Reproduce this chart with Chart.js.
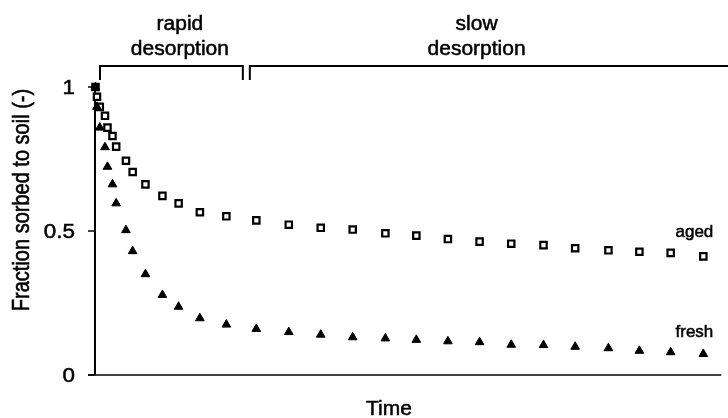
<!DOCTYPE html>
<html><head><meta charset="utf-8">
<script src="https://cdn.jsdelivr.net/npm/chart.js@4"></script>
<style>html,body{margin:0;padding:0;background:#fff}#wrap{width:728px;height:418px;position:relative}</style>
</head><body><div id="wrap"><canvas id="c" width="728" height="418"></canvas></div>
<script>
// ---- data ----
const timeValues = [0.05, 0.2, 0.48, 1.0, 1.25, 1.75, 2.12, 3.1, 3.77, 5.05, 6.75, 8.37, 10.5, 13.15, 16.15, 19.4, 22.6, 25.8, 29.07, 32.17, 35.33, 38.5, 41.67, 44.9, 48.07, 51.4, 54.5, 57.63, 60.9];
const agedValues = [1.0, 0.966, 0.931, 0.900, 0.859, 0.830, 0.793, 0.744, 0.705, 0.662, 0.622, 0.596, 0.565, 0.551, 0.537, 0.522, 0.511, 0.505, 0.492, 0.484, 0.472, 0.463, 0.456, 0.451, 0.440, 0.433, 0.428, 0.424, 0.412];
const freshValues = [1.0, 0.931, 0.859, 0.791, 0.723, 0.662, 0.596, 0.503, 0.430, 0.350, 0.278, 0.237, 0.197, 0.175, 0.160, 0.149, 0.140, 0.131, 0.127, 0.122, 0.117, 0.114, 0.105, 0.104, 0.098, 0.093, 0.084, 0.079, 0.073];
const yTickValues = [0, 0.5, 1];
const yTickLabels = ['0', '0.5', '1'];
const seriesNames = ['aged', 'fresh'];
const seriesLabelY = [0.479, 0.132];
const seriesLabelX = 61.9;
const phaseNames = [['rapid', 'desorption'], ['slow', 'desorption']];
const phaseStarts = [0.5, 15.5];
const phaseEnds = [14.8, 64];
const phaseLabelX = [8.5, 38.2];
const xTitle = 'Time';
const yTitle = 'Fraction sorbed to soil (-)';
const FONT = '"Liberation Sans", Arial, Helvetica, sans-serif';

function txt(ctx, s, x, y, size, sx, align) {
  ctx.save();
  ctx.translate(x, y);
  ctx.scale(sx, 1);
  ctx.font = size + 'px ' + FONT;
  ctx.textAlign = align || 'center';
  ctx.textBaseline = 'alphabetic';
  ctx.fillStyle = '#000';
  ctx.strokeStyle = '#000';
  ctx.lineWidth = 0.5;
  ctx.fillText(s, 0, 0);
  ctx.strokeText(s, 0, 0);
  ctx.restore();
}

const axesPlugin = {
  id: 'axesPlugin',
  beforeDatasetsDraw(chart) {
    const ctx = chart.ctx, xs = chart.scales.x, ys = chart.scales.y, ca = chart.chartArea;
    const x0 = xs.getPixelForValue(0), y0 = ys.getPixelForValue(0);
    ctx.save();
    ctx.strokeStyle = '#000';
    ctx.lineWidth = 1.5;
    ctx.beginPath(); ctx.moveTo(ca.left, y0); ctx.lineTo(ca.right, y0); ctx.stroke();
    ctx.lineWidth = 2;
    ctx.beginPath(); ctx.moveTo(x0, y0); ctx.lineTo(x0, ys.getPixelForValue(1) - 1); ctx.stroke();
    ctx.lineWidth = 1.5;
    yTickValues.forEach((v, i) => {
      const py = ys.getPixelForValue(v);
      ctx.beginPath(); ctx.moveTo(ca.left, py); ctx.lineTo(x0, py); ctx.stroke();
      txt(ctx, yTickLabels[i], ca.left - 13, py + 7, 20, 1.12, 'right');
    });
    // phase brackets
    ctx.lineWidth = 2;
    const by = ca.top - 21, bt = ca.top - 7;
    phaseNames.forEach((lines, i) => {
      const a = xs.getPixelForValue(phaseStarts[i]);
      const b = Math.min(xs.getPixelForValue(phaseEnds[i]), chart.width);
      ctx.beginPath();
      ctx.moveTo(a, bt); ctx.lineTo(a, by); ctx.lineTo(b, by);
      if (phaseEnds[i] <= xs.max) ctx.lineTo(b, bt);
      ctx.stroke();
      const lx = xs.getPixelForValue(phaseLabelX[i]);
      txt(ctx, lines[0], lx, ca.top - 57, 20, 1.05);
      txt(ctx, lines[1], lx, ca.top - 32, 20, 1.05);
    });
    ctx.restore();
  },
  afterDraw(chart) {
    const ctx = chart.ctx, xs = chart.scales.x, ys = chart.scales.y;
    seriesNames.forEach((n, i) => {
      txt(ctx, n, xs.getPixelForValue(seriesLabelX), ys.getPixelForValue(seriesLabelY[i]), 17, 1, 'right');
    });
    txt(ctx, xTitle, 389, 415, 21, 1, 'center');
    ctx.save();
    ctx.translate(22, 200);
    ctx.rotate(-Math.PI / 2);
    ctx.scale(1, 1.2);
    ctx.font = '20px ' + FONT;
    ctx.textAlign = 'center';
    ctx.textBaseline = 'middle';
    ctx.fillStyle = '#000';
    ctx.strokeStyle = '#000';
    ctx.lineWidth = 0.5;
    ctx.fillText(yTitle, 0, 0);
    ctx.strokeText(yTitle, 0, 0);
    ctx.restore();
  }
};

new Chart(document.getElementById('c'), {
  type: 'scatter',
  data: {
    datasets: [
      {
        label: seriesNames[1],
        data: timeValues.map((t, i) => ({ x: t, y: freshValues[i] })),
        pointStyle: 'triangle', pointRadius: 5, borderWidth: 1,
        borderColor: '#000', backgroundColor: '#000', clip: false, showLine: false
      },
      {
        label: seriesNames[0],
        data: timeValues.map((t, i) => ({ x: t, y: agedValues[i] })),
        pointStyle: 'rect', pointRadius: 4.5, borderWidth: 2.2,
        borderColor: '#000', backgroundColor: '#fff', clip: false, showLine: false
      }
    ]
  },
  options: {
    responsive: false,
    devicePixelRatio: 1,
    animation: false,
    layout: { padding: { left: 88, right: 6, top: 87, bottom: 43 } },
    plugins: { legend: { display: false }, tooltip: { enabled: false } },
    scales: {
      x: { type: 'linear', min: -0.7, max: 62.7, display: false },
      y: { type: 'linear', min: 0, max: 1, display: false }
    }
  },
  plugins: [axesPlugin]
});
</script></body></html>
